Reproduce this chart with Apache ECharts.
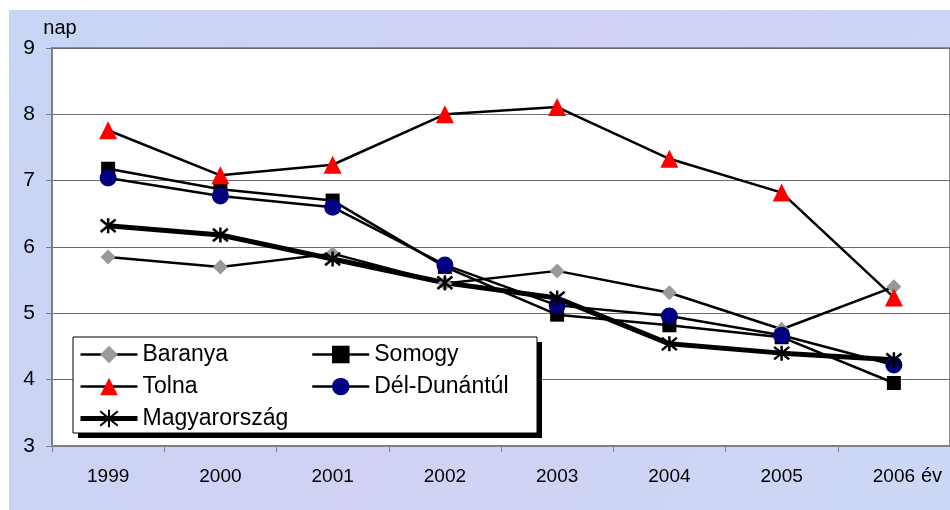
<!DOCTYPE html>
<html>
<head>
<meta charset="utf-8">
<script src="https://cdn.jsdelivr.net/npm/echarts@6/dist/echarts.min.js"></script>
<style>
  html, body { margin: 0; padding: 0; background: #fff; }
  #chart { position: absolute; left: 9px; top: 10px; width: 941px; height: 500px; }
</style>
</head>
<body>
<div id="chart"></div>
<script>
const years = ['1999', '2000', '2001', '2002', '2003', '2004', '2005', '2006'];
const baranya = [5.85, 5.70, 5.90, 5.45, 5.64, 5.31, 4.76, 5.40];
const somogy = [7.18, 6.87, 6.70, 5.70, 4.98, 4.82, 4.64, 3.95];
const tolna = [7.76, 7.08, 7.24, 8.00, 8.11, 7.33, 6.82, 5.24];
const delDunantul = [7.04, 6.77, 6.60, 5.73, 5.12, 4.96, 4.67, 4.22];
const magyarorszag = [6.32, 6.18, 5.82, 5.46, 5.23, 4.54, 4.40, 4.30];

const font = 'Liberation Sans, Arial, sans-serif';
const starPath = 'path://M0,0L10,10M10,0L0,10M5,-1L5,11';

const chart = echarts.init(document.getElementById('chart'));

function lineSeries(name, data, symbol, size, color, width) {
  return {
    name: name,
    type: 'line',
    data: data,
    symbol: symbol,
    symbolSize: size,
    showAllSymbol: true,
    animation: false,
    lineStyle: { color: '#000', width: width || 2.5 },
    itemStyle: { color: color, borderColor: color, borderWidth: 0 }
  };
}

// legend entries carry their own line width so the icons match the plot
function legendItem(name, width) {
  return { name: name, lineStyle: { color: '#000', width: width || 2.5 } };
}

const legendText = { fontSize: 23, color: '#000', fontFamily: font };

const option = {
  backgroundColor: {
    type: 'linear', x: 0, y: 0, x2: 1, y2: 1,
    colorStops: [
      { offset: 0, color: '#c8d5f4' },
      { offset: 0.5, color: '#d0d1f3' },
      { offset: 1, color: '#cbd8f5' }
    ]
  },
  textStyle: { fontFamily: font },
  grid: {
    left: 43, top: 38, right: 0, bottom: 64,
    outerBoundsMode: 'none',
    show: true, backgroundColor: '#fff', borderColor: '#8c8c8c', borderWidth: 2
  },
  xAxis: {
    type: 'category',
    data: years,
    name: 'év',
    nameLocation: 'end',
    nameGap: -29,
    nameTextStyle: { fontSize: 20, color: '#000', verticalAlign: 'top', padding: [20, 0, 0, 0] },
    axisLine: { lineStyle: { color: '#808080', width: 2 } },
    axisTick: { show: true, length: 6, lineStyle: { color: '#808080', width: 1 } },
    axisLabel: { fontSize: 19, color: '#000', margin: 21 },
    splitLine: { show: false }
  },
  yAxis: {
    type: 'value',
    min: 3, max: 9, interval: 1,
    name: 'nap',
    nameLocation: 'end',
    nameGap: 10,
    nameTextStyle: { fontSize: 20, color: '#000', align: 'center', padding: [0, 0, 0, 16] },
    axisLine: { show: true, lineStyle: { color: '#808080', width: 2 } },
    axisTick: { show: true, length: 6, lineStyle: { color: '#808080' } },
    axisLabel: { fontSize: 21, color: '#000', margin: 17 },
    splitLine: { lineStyle: { color: '#6e6e6e', width: 1 } }
  },
  graphic: [
    {
      type: 'rect', z: 5,
      shape: { x: 69, y: 332, width: 464, height: 96 },
      style: { fill: '#000' }
    },
    {
      type: 'rect', z: 5,
      shape: { x: 64, y: 327, width: 464, height: 96 },
      style: { fill: '#fff', stroke: '#000', lineWidth: 1 }
    }
  ],
  legend: [
    {
      z: 6, orient: 'vertical', left: 69, top: 333, padding: 0, itemGap: 9,
      itemWidth: 57, itemHeight: 22,
      textStyle: legendText,
      data: [legendItem('Baranya'), legendItem('Tolna'), legendItem('Magyarország', 5)]
    },
    {
      z: 6, orient: 'vertical', left: 302, top: 333, padding: 0, itemGap: 9,
      itemWidth: 57, itemHeight: 22,
      textStyle: legendText,
      data: [legendItem('Somogy'), legendItem('Dél-Dunántúl')]
    }
  ],
  series: [
    lineSeries('Baranya', baranya, 'diamond', 15, '#999999'),
    lineSeries('Somogy', somogy, 'rect', 14, '#000000'),
    lineSeries('Tolna', tolna, 'triangle', 18, '#ff0000'),
    lineSeries('Dél-Dunántúl', delDunantul, 'circle', 17, '#000080'),
    {
      name: 'Magyarország',
      type: 'line',
      data: magyarorszag,
      symbol: starPath,
      symbolSize: 15,
      showAllSymbol: true,
      animation: false,
      lineStyle: { color: '#000', width: 5 },
      itemStyle: { color: '#000', borderColor: '#000', borderWidth: 2.5 }
    }
  ]
};

chart.setOption(option);
</script>
</body>
</html>
